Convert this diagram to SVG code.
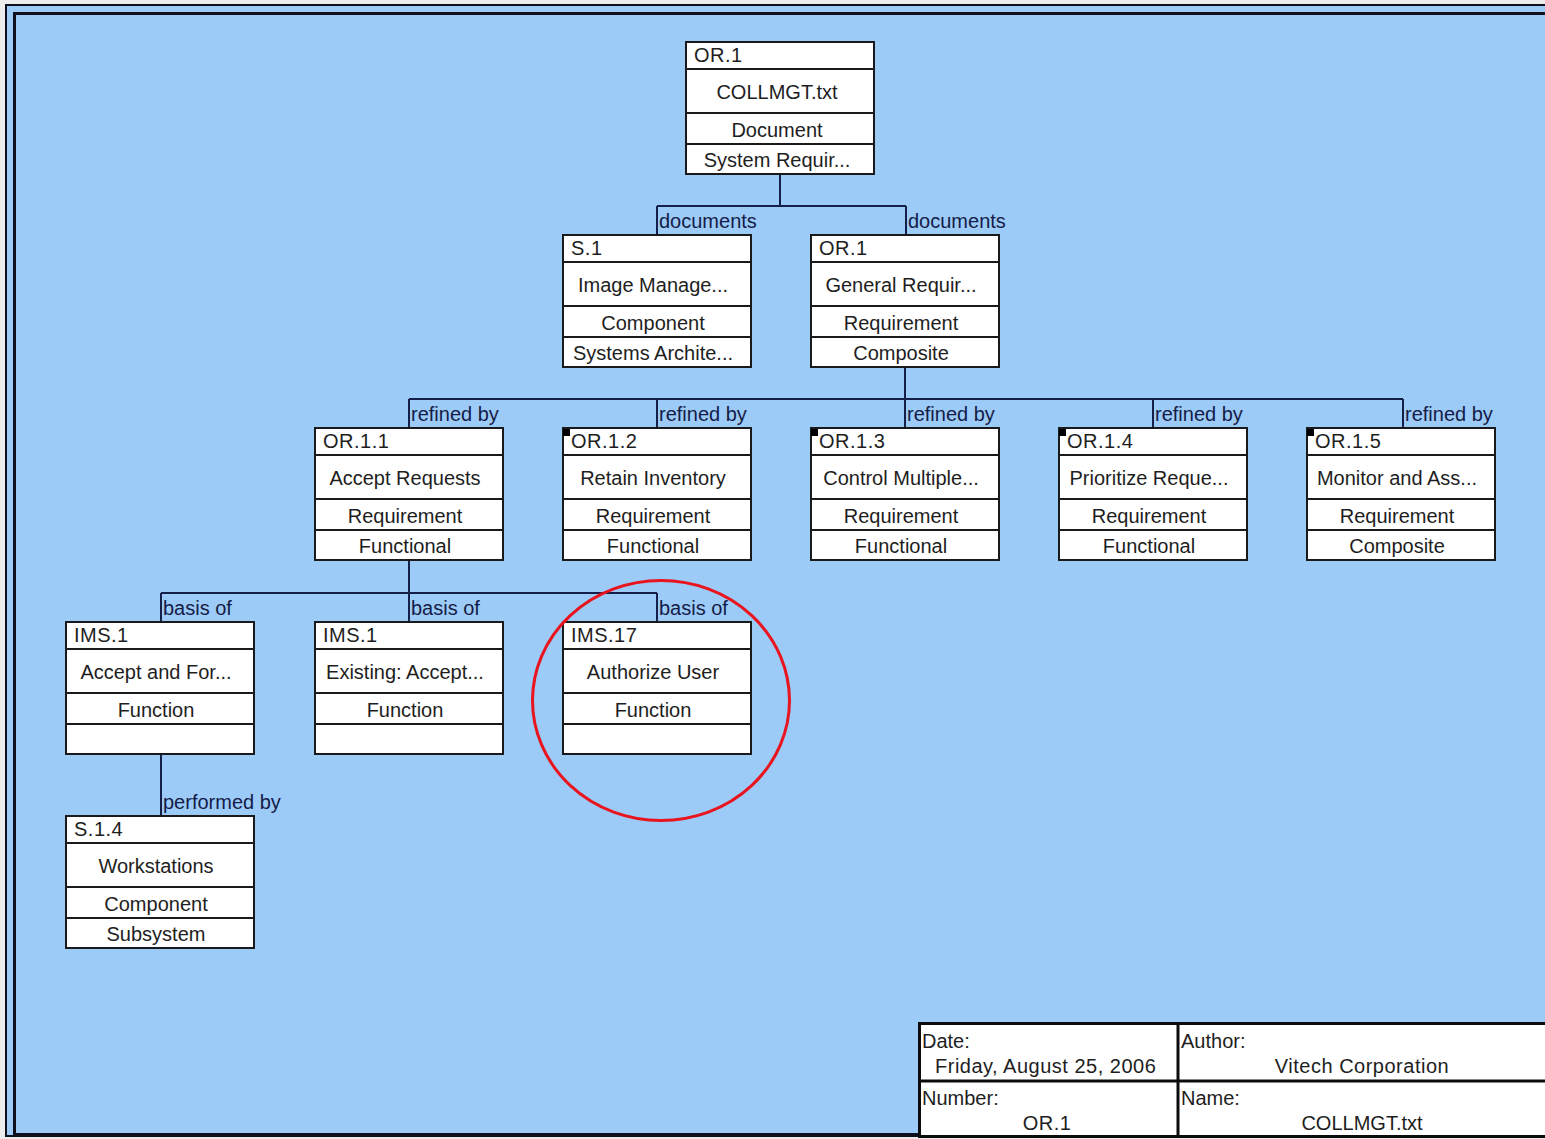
<svg xmlns="http://www.w3.org/2000/svg" width="1545" height="1139" viewBox="0 0 1545 1139">
<style>
.box{fill:#ffffff;stroke:#1a1a1a;stroke-width:2}
.sep{stroke:#1a1a1a;stroke-width:2}
.t{font-family:"Liberation Sans",Arial,sans-serif;font-size:20px;fill:#1e1e1e}
.c{text-anchor:middle}
.lbl{font-family:"Liberation Sans",Arial,sans-serif;font-size:20px;fill:#141c48}
.con{fill:none;stroke:#14204a;stroke-width:2}
.mk{fill:#000}
.tb{fill:#ffffff;stroke:#0c0c0c;stroke-width:3}
.w{letter-spacing:0.5px}
</style>
<defs>
<g id="frame">
<rect class="box" x="0" y="0" width="188" height="132"/>
<line class="sep" x1="0" y1="27" x2="188" y2="27"/>
<line class="sep" x1="0" y1="71" x2="188" y2="71"/>
<line class="sep" x1="0" y1="102" x2="188" y2="102"/>
</g>
</defs>
<rect x="0" y="0" width="1545" height="1139" fill="#ececec"/>
<rect x="5" y="5" width="1560" height="1132" fill="#9dcbf8"/>
<rect x="6" y="5" width="1560" height="1131" fill="none" stroke="#0f0f1e" stroke-width="2"/>
<rect x="14.5" y="13.5" width="1560" height="1121" fill="none" stroke="#0f0f1e" stroke-width="3"/>

<g id="connectors">
<path class="con" d="M780,174 V206 M657,206 H906 M657,206 V235 M906,206 V235"/>
<path class="con" d="M905,367 V399 M409,399 H1403 M409,399 V428 M657,399 V428 M905,399 V428 M1153,399 V428 M1403,399 V428"/>
<path class="con" d="M409,560 V593 M161,593 H657 M161,593 V622 M409,593 V622 M657,593 V622"/>
<path class="con" d="M161,754 V816"/>
<text class="lbl" x="659" y="228">documents</text>
<text class="lbl" x="908" y="228">documents</text>
<text class="lbl" x="411" y="421">refined by</text>
<text class="lbl" x="659" y="421">refined by</text>
<text class="lbl" x="907" y="421">refined by</text>
<text class="lbl" x="1155" y="421">refined by</text>
<text class="lbl" x="1405" y="421">refined by</text>
<text class="lbl" x="163" y="615">basis of</text>
<text class="lbl" x="411" y="615">basis of</text>
<text class="lbl" x="659" y="615">basis of</text>
<text class="lbl" x="163" y="809">performed by</text>
</g>

<g id="node-or1-doc" transform="translate(686,42)">
<use href="#frame"/>
<text class="t w" x="8" y="20">OR.1</text>
<text class="t c" x="91" y="57">COLLMGT.txt</text>
<text class="t c" x="91" y="95">Document</text>
<text class="t c" x="91" y="125">System Requir...</text>
</g>

<g id="node-s1" transform="translate(563,235)">
<use href="#frame"/>
<text class="t w" x="8" y="20">S.1</text>
<text class="t c" x="90" y="57">Image Manage...</text>
<text class="t c" x="90" y="95">Component</text>
<text class="t c" x="90" y="125">Systems Archite...</text>
</g>

<g id="node-or1" transform="translate(811,235)">
<use href="#frame"/>
<text class="t w" x="8" y="20">OR.1</text>
<text class="t c" x="90" y="57">General Requir...</text>
<text class="t c" x="90" y="95">Requirement</text>
<text class="t c" x="90" y="125">Composite</text>
</g>

<g id="node-or1-1" transform="translate(315,428)">
<use href="#frame"/>
<text class="t w" x="8" y="20">OR.1.1</text>
<text class="t c" x="90" y="57">Accept Requests</text>
<text class="t c" x="90" y="95">Requirement</text>
<text class="t c" x="90" y="125">Functional</text>
</g>

<g id="node-or1-2" transform="translate(563,428)">
<use href="#frame"/>
<rect class="mk" x="0" y="1" width="7" height="7"/>
<text class="t w" x="8" y="20">OR.1.2</text>
<text class="t c" x="90" y="57">Retain Inventory</text>
<text class="t c" x="90" y="95">Requirement</text>
<text class="t c" x="90" y="125">Functional</text>
</g>

<g id="node-or1-3" transform="translate(811,428)">
<use href="#frame"/>
<rect class="mk" x="0" y="1" width="7" height="7"/>
<text class="t w" x="8" y="20">OR.1.3</text>
<text class="t c" x="90" y="57">Control Multiple...</text>
<text class="t c" x="90" y="95">Requirement</text>
<text class="t c" x="90" y="125">Functional</text>
</g>

<g id="node-or1-4" transform="translate(1059,428)">
<use href="#frame"/>
<rect class="mk" x="0" y="1" width="7" height="7"/>
<text class="t w" x="8" y="20">OR.1.4</text>
<text class="t c" x="90" y="57">Prioritize Reque...</text>
<text class="t c" x="90" y="95">Requirement</text>
<text class="t c" x="90" y="125">Functional</text>
</g>

<g id="node-or1-5" transform="translate(1307,428)">
<use href="#frame"/>
<rect class="mk" x="0" y="1" width="7" height="7"/>
<text class="t w" x="8" y="20">OR.1.5</text>
<text class="t c" x="90" y="57">Monitor and Ass...</text>
<text class="t c" x="90" y="95">Requirement</text>
<text class="t c" x="90" y="125">Composite</text>
</g>

<g id="node-ims1-a" transform="translate(66,622)">
<use href="#frame"/>
<text class="t w" x="8" y="20">IMS.1</text>
<text class="t c" x="90" y="57">Accept and For...</text>
<text class="t c" x="90" y="95">Function</text>
</g>

<g id="node-ims1-b" transform="translate(315,622)">
<use href="#frame"/>
<text class="t w" x="8" y="20">IMS.1</text>
<text class="t c" x="90" y="57">Existing: Accept...</text>
<text class="t c" x="90" y="95">Function</text>
</g>

<g id="node-ims17" transform="translate(563,622)">
<use href="#frame"/>
<text class="t w" x="8" y="20">IMS.17</text>
<text class="t c" x="90" y="57">Authorize User</text>
<text class="t c" x="90" y="95">Function</text>
</g>

<g id="node-s1-4" transform="translate(66,816)">
<use href="#frame"/>
<text class="t w" x="8" y="20">S.1.4</text>
<text class="t c" x="90" y="57">Workstations</text>
<text class="t c" x="90" y="95">Component</text>
<text class="t c" x="90" y="125">Subsystem</text>
</g>

<ellipse id="highlight" cx="661" cy="700.5" rx="128.5" ry="120" fill="none" stroke="#e8141e" stroke-width="3"/>

<g id="title-block">
<rect class="tb" x="919.5" y="1023.5" width="660" height="113"/>
<line x1="1178" y1="1023" x2="1178" y2="1137" stroke="#0c0c0c" stroke-width="3"/>
<line x1="919" y1="1081" x2="1560" y2="1081" stroke="#0c0c0c" stroke-width="3"/>
<text class="t" x="922" y="1048">Date:</text>
<text class="t w" x="935" y="1073">Friday, August 25, 2006</text>
<text class="t" x="1181" y="1048">Author:</text>
<text class="t c w" x="1362" y="1073">Vitech Corporation</text>
<text class="t" x="922" y="1105">Number:</text>
<text class="t c w" x="1047" y="1130">OR.1</text>
<text class="t" x="1181" y="1105">Name:</text>
<text class="t c" x="1362" y="1130">COLLMGT.txt</text>
</g>
</svg>
